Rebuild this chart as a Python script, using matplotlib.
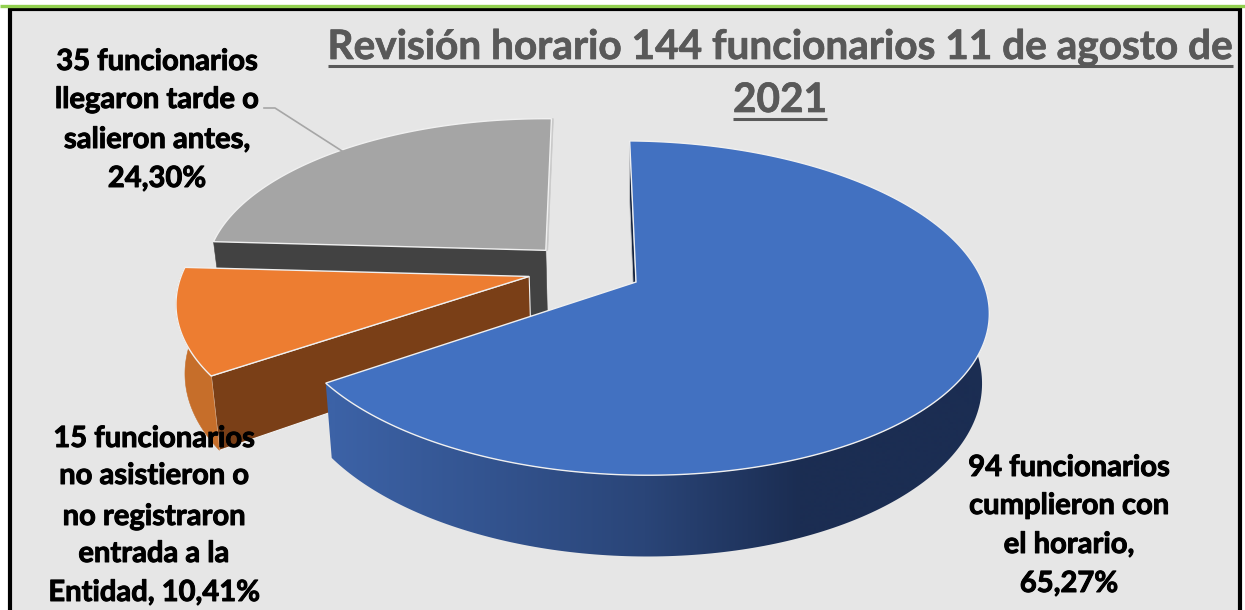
import numpy as np
import matplotlib
matplotlib.use('Agg')
import matplotlib.pyplot as plt
import matplotlib.patheffects as pe
from matplotlib.patches import Polygon, Rectangle
from matplotlib.colors import to_rgb

plt.rcParams['font.family'] = ['Lato', 'DejaVu Sans']

# data: clockwise from the top, as in the chart
percent = [65.27, 10.41, 24.30]
top_colors = ['#4271C1', '#ED7D31', '#A5A5A5']
side_colors = ['#1B2D52', '#C66E2A', '#7F7F7F']
cut_colors = ['#14233F', '#7A3F17', '#424242']

title_lines = ['Revisión horario 144 funcionarios 11 de agosto de', '2021']
label_blue = ['94 funcionarios', 'cumplieron con', 'el horario,', '65,27%']
label_orange = ['15 funcionarios', 'no asistieron o', 'no registraron', 'entrada a la', 'Entidad, 10,41%']
label_gray = ['35 funcionarios', 'llegaron tarde o', 'salieron antes,', '24,30%']

# 3D look of the pie, in pixels of the picture
X0, Y0 = 636, 282
RX, RY, PERSP = 349, 163, 0.156
SHEAR = 5.5
START = -1.2
EXPLODE = 0.166
RADIUS = [1.0, 0.995, 0.985]


def project(px, py):
    w = 1 / (1 + PERSP * py)
    return X0 + RX * px * w, Y0 - RY * py * w + SHEAR * px * w


def lower(x, y):
    # same point on the bottom face of the pie
    return 12.5 + 0.98 * x, y * 1.07 + 48


def rim(center, r, a1, a2, n=120):
    t = np.radians(np.linspace(a1, a2, n))
    return project(center[0] + r * np.sin(t), center[1] + r * np.cos(t))


def poly(ax, xs, ys, color, edge=None, lw=0.0):
    p = Polygon(np.column_stack([xs, ys]), closed=True, facecolor=color,
                edgecolor=edge if edge else color, linewidth=lw if edge else 0.4)
    ax.add_patch(p)
    return p


def blue_ramp(x):
    stops_x = [335, 645, 800]
    stops_c = [to_rgb('#3C62A6'), to_rgb('#2A4578'), to_rgb('#1B2D52')]
    return np.column_stack([np.interp(x, stops_x, [c[i] for c in stops_c]) for i in range(3)])


fig = plt.figure(figsize=(12.45, 6.1), dpi=100)
ax = fig.add_axes([0, 0, 1, 1])
ax.axis('off')

# page frame
ax.add_patch(Rectangle((9.5, 9), 1230, 620, facecolor='#E6E6E6', edgecolor='black', linewidth=3))
ax.plot([0, 1245], [5.5, 5.5], color='#92D050', lw=2.4, solid_capstyle='butt')

sweeps = np.array(percent) / sum(percent) * 360
starts = START + np.concatenate([[0], np.cumsum(sweeps)[:-1]])
mids = np.radians(starts + sweeps / 2)
# blue slice is the reference point of the picture
centers = [(EXPLODE * (np.sin(m) - np.sin(mids[0])), EXPLODE * (np.cos(m) - np.cos(mids[0]))) for m in mids]

for i in [2, 1, 0]:
    c, r = centers[i], RADIUS[i]
    a1, a2 = starts[i], starts[i] + sweeps[i]
    ax_, ay_ = project(*c)
    bx_, by_ = lower(ax_, ay_)

    if i == 2:
        # front cut face and the thin one at the right
        rx, ry = rim(c, r, a1, a1, 2)
        lx, ly = lower(rx, ry)
        poly(ax, [rx[0], ax_, bx_, lx[0]], [ry[0], ay_, by_, ly[0]], cut_colors[i])
        ex, ey = rim(c, r, a2, a2, 2)
        poly(ax, [ex[0], ex[0] + 2, ax_ + 2, ax_], [ey[0], ey[0], ay_, ay_], '#C9C9C9')
    if i == 1:
        rx, ry = rim(c, r, a1, a1, 2)
        lx, ly = lower(rx, ry)
        poly(ax, [rx[0], ax_, bx_, lx[0]], [ry[0], ay_, by_, ly[0]], cut_colors[i], '#F2F2F2', 0.8)
        wx, wy = rim(c, r, a1, a2)
        lx, ly = lower(wx, wy)
        poly(ax, np.r_[wx, lx[::-1]], np.r_[wy, ly[::-1]], side_colors[i])
    if i == 0:
        ex, ey = rim(c, r, a1, a1, 2)
        gx, gy = lower(ex, ey)
        poly(ax, [ex[0], ax_, bx_, gx[0]], [ey[0], ay_, by_, gy[0]], cut_colors[i], '#C8C8C8', 0.6)
        # outer wall with its left to right shading
        wx, wy = rim(c, r, a2, 60, 200)
        lx, ly = lower(wx, wy)
        wall = poly(ax, np.r_[wx, lx[::-1]], np.r_[wy, ly[::-1]], 'none', 'none', 0)
        xs = np.arange(300, 1001)
        im = ax.imshow(blue_ramp(xs)[np.newaxis, :, :], extent=(300, 1000, 620, 100),
                       aspect='auto', zorder=1)
        im.set_clip_path(wall)

    tx, ty = rim(c, r, a1, a2, 240)
    poly(ax, np.r_[ax_, tx], np.r_[ay_, ty], top_colors[i], '#F0F0F0', 1.0)

ax.set_xlim(0, 1245)
ax.set_ylim(610, 0)

# leader of the gray label
ax.plot([264, 275, 342], [108, 108, 151], color='#A6A6A6', lw=1.2)

# title with its underline
fig.canvas.draw()
renderer = fig.canvas.get_renderer()
for line, x, y, uy in zip(title_lines, [780, 780], [59, 112], [66, 119]):
    t = ax.text(x, y, line, ha='center', va='baseline', fontsize=29.2, fontweight='bold', color='#595959',
                path_effects=[pe.withStroke(linewidth=0.5, foreground='#595959')])
    box = t.get_window_extent(renderer)
    ax.plot([box.x0, box.x1], [uy, uy], color='#595959', lw=2.2, solid_capstyle='butt')

for lines, x, baselines in [
    (label_gray, 157, [70, 108, 148, 187]),
    (label_orange, 154, [447, 484, 525, 562, 601]),
    (label_blue, 1069, [476, 514, 553, 592]),
]:
    for line, y in zip(lines, baselines):
        ax.text(x, y, line, ha='center', va='baseline', fontsize=21, fontweight='bold', color='black',
                path_effects=[pe.withStroke(linewidth=0.7, foreground='black')])

fig.savefig('out.png', dpi=100)
